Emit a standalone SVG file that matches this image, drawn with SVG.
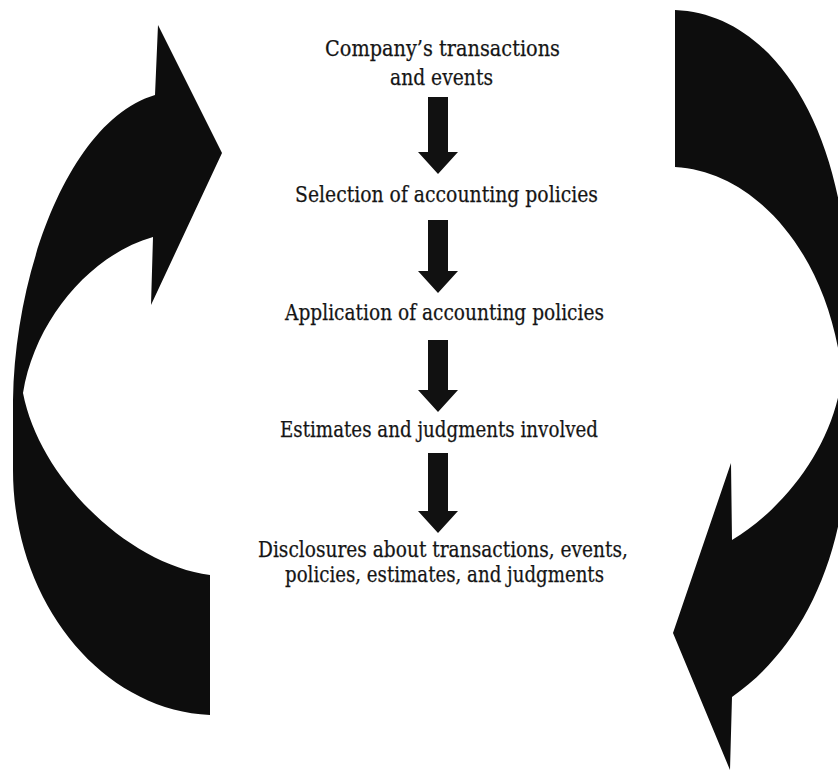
<svg xmlns="http://www.w3.org/2000/svg" width="838" height="772" viewBox="0 0 838 772">
<style>
  .t { font-family: "DejaVu Serif", "Liberation Serif", serif; font-size: 22.5px; fill: #151515; stroke: #151515; stroke-width: 0.25; text-anchor: middle; }
  .big { fill: #0d0d0d; }
  .arr { fill: #111; }
</style>
<rect width="838" height="772" fill="#fff"/>
<g id="cycle">
  <path id="cycle-left" class="big" d="M158,25 L222,153 L151,305 L153,237 C90,255 35,320 23,393 C40,480 130,565 210,575 L210,715 C100,710 13,600 13,470 L13,400 C15,270 70,120 155,95 Z"/>
  <path id="cycle-right" class="big" d="M675,10 C775,14 845,130 848,290 L848,440 C846,560 800,650 732,697 L730,770 L673,633 L731,463 L732,540 C790,505 835,440 842,375 C830,260 760,172 675,167 Z"/>
</g>
<g id="connectors">
  <path class="arr" d="M428,97 L448,97 L448,152 L458,152 L438,174 L418,152 L428,152 Z"/>
  <path class="arr" d="M428,220 L448,220 L448,271 L458,271 L438,293 L418,271 L428,271 Z"/>
  <path class="arr" d="M428,340 L448,340 L448,390 L458,390 L438,412 L418,390 L428,390 Z"/>
  <path class="arr" d="M428,453 L448,453 L448,511 L458,511 L438,533 L418,511 L428,511 Z"/>
</g>
<g id="node-transactions">
  <text class="t" x="442.5" y="56" textLength="235" lengthAdjust="spacingAndGlyphs">Company’s transactions</text>
  <text class="t" x="441.5" y="85" textLength="103" lengthAdjust="spacingAndGlyphs">and events</text>
</g>
<g id="node-selection">
  <text class="t" x="446.5" y="202" textLength="303" lengthAdjust="spacingAndGlyphs">Selection of accounting policies</text>
</g>
<g id="node-application">
  <text class="t" x="444.5" y="320" textLength="319" lengthAdjust="spacingAndGlyphs">Application of accounting policies</text>
</g>
<g id="node-estimates">
  <text class="t" x="439" y="437" textLength="318" lengthAdjust="spacingAndGlyphs">Estimates and judgments involved</text>
</g>
<g id="node-disclosures">
  <text class="t" x="443" y="557" textLength="370" lengthAdjust="spacingAndGlyphs">Disclosures about transactions, events,</text>
  <text class="t" x="444.5" y="582" textLength="319" lengthAdjust="spacingAndGlyphs">policies, estimates, and judgments</text>
</g>
</svg>
